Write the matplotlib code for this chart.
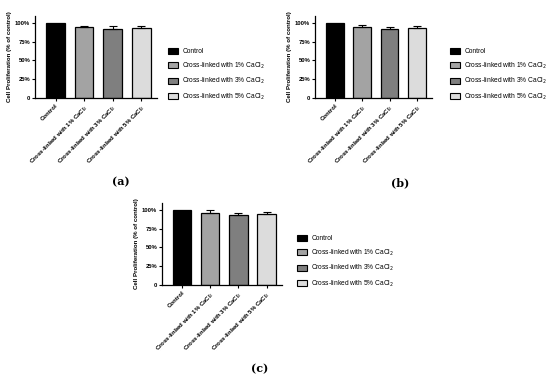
import matplotlib
matplotlib.use("Agg")
import matplotlib.pyplot as plt
from matplotlib.patches import Patch

plt.rcParams['font.family'] = ['Liberation Sans', 'DejaVu Sans']

groups = ["Control", "Cross-linked with 1% CaCl$_2$",
          "Cross-linked with 3% CaCl$_2$", "Cross-linked with 5% CaCl$_2$"]
colors = ["#000000", "#a3a3a3", "#7f7f7f", "#dcdcdc"]

vals_a = [100, 94.2, 92.0, 93.3]
err_a = [0, 1.2, 4.0, 2.5]
vals_b = [100, 93.8, 92.0, 93.3]
err_b = [0, 2.8, 2.8, 2.6]
vals_c = [100, 96.0, 93.3, 94.2]
err_c = [0, 3.8, 3.0, 3.0]

yticks = [0, 25, 50, 75, 100]
yticklabels = ["0", "25%", "50%", "75%", "100%"]

W, H = 550, 378
fig = plt.figure(figsize=(W / 100, H / 100), dpi=100)


def panel(left, top, right, bottom, vals, errs, tag, tag_xy, leg_xy):
    ax = fig.add_axes([left / W, 1 - bottom / H, (right - left) / W, (bottom - top) / H])
    x = range(len(vals))
    ax.bar(x, vals, width=0.65, color=colors, edgecolor="black", linewidth=0.9)
    for xi, v, e in zip(x, vals, errs):
        if e > 0:
            ax.errorbar(xi, v, yerr=[[0], [e]], color="black", capsize=3,
                        elinewidth=0.8, capthick=0.8)
    ax.set_xlim(-0.72, 3.55)
    ax.set_ylim(0, 109)
    ax.set_yticks(yticks)
    ax.set_yticklabels(yticklabels, fontsize=4.2, fontweight="bold")
    ax.set_xticks(list(x))
    ax.set_xticklabels(groups, rotation=45, ha="right", rotation_mode="anchor",
                       fontsize=4.3, fontweight="bold")
    ax.tick_params(axis="both", length=2, width=0.8, pad=1.5)
    for s in ["top", "right"]:
        ax.spines[s].set_visible(False)
    for s in ["left", "bottom"]:
        ax.spines[s].set_linewidth(0.9)
    ax.set_ylabel("Cell Proliferation (% of control)", fontsize=4.4,
                  fontweight="bold", labelpad=2)
    handles = [Patch(facecolor=c, edgecolor="black", linewidth=0.8) for c in colors]
    fig.legend(handles, groups, loc="center left",
               bbox_to_anchor=(leg_xy[0] / W, 1 - leg_xy[1] / H),
               frameon=False, fontsize=4.8, handlelength=1.6, handleheight=1.0,
               labelspacing=0.8, handletextpad=0.6, borderaxespad=0)
    fig.text(tag_xy[0] / W, 1 - tag_xy[1] / H, tag, ha="center", va="center",
             fontsize=8, family="DejaVu Serif", fontweight="bold")
    return ax


panel(35, 16, 157, 98, vals_a, err_a, "(a)", (121, 182), (165, 75))
panel(315, 16, 432, 98, vals_b, err_b, "(b)", (400, 183), (447, 75))
panel(162, 203, 282, 285, vals_c, err_c, "(c)", (260, 369), (294, 262))

fig.savefig("out.png", dpi=100)
